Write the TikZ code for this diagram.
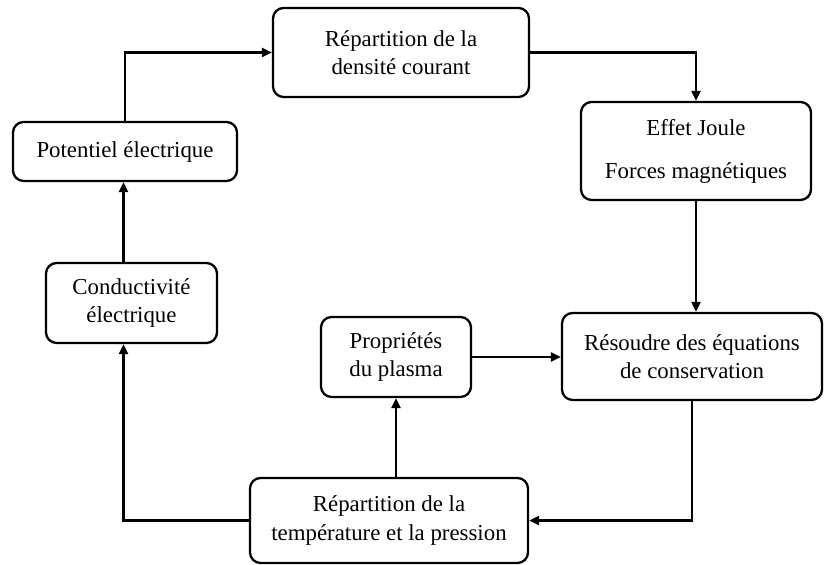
\documentclass[tikz,border=0pt]{standalone}
\usepackage{fontspec}
\setmainfont{Liberation Serif}
\usepackage{tikz}
\usetikzlibrary{positioning, arrows.meta}

\begin{document}
\begin{tikzpicture}[
        box/.style={rectangle, draw, line width=1.3pt, rounded corners=6pt,
                    align=center, inner sep=2pt,
                    font=\fontsize{13}{16}\selectfont},
        arrow/.style={->, line width=1.2pt,
                      >={Triangle[length=0.2cm, width=0.18cm]}}
    ]
    \useasboundingbox (0,0) rectangle (16.68,-11.3);

    %% TOP ROW
    \node[box, minimum width=5.12cm, minimum height=1.78cm] (densite)
          at (8.02,-1.05) {Répartition de la\\densité courant};
    \node[box, minimum width=4.48cm, minimum height=1.18cm] (potentiel)
          at (2.50,-3.03) {Potentiel électrique};
    \node[box, minimum width=4.60cm, minimum height=1.96cm] (effet)
          at (13.92,-3.02) {Effet Joule\\[0.3cm]Forces magnétiques};

    %% MIDDLE ROW
    \node[box, minimum width=3.42cm, minimum height=1.60cm] (conductivite)
          at (2.63,-6.06) {Conductivité\\électrique};
    \node[box, minimum width=3.00cm, minimum height=1.60cm] (proprietes)
          at (7.92,-7.14) {Propriétés\\du plasma};
    \node[box, minimum width=5.20cm, minimum height=1.74cm] (resoudre)
          at (13.84,-7.13) {Résoudre des équations\\de conservation};

    %% BOTTOM
    \node[box, minimum width=5.56cm, minimum height=1.70cm] (temperature)
          at (7.78,-10.41) {Répartition de la\\température et la pression};

    %% CONNECTIONS
    \draw[arrow] (potentiel.north) |- (densite.west);
    \draw[arrow] (densite.east) -| (effet.north);
    \draw[arrow] (effet.south) -- (effet.south |- resoudre.north);
    \draw[arrow] (resoudre.south) |- (temperature.east);
    \draw[arrow] (temperature.north -| proprietes.south) -- (proprietes.south);
    \draw[arrow] (proprietes.east) -- (proprietes.east -| resoudre.west);
    \draw[arrow] (temperature.west) -| ([xshift=-0.16cm]conductivite.south);
    \draw[arrow] ([xshift=-0.16cm]conductivite.north)
          -- ([xshift=-0.16cm]conductivite.north |- potentiel.south);

\end{tikzpicture}
\end{document}
